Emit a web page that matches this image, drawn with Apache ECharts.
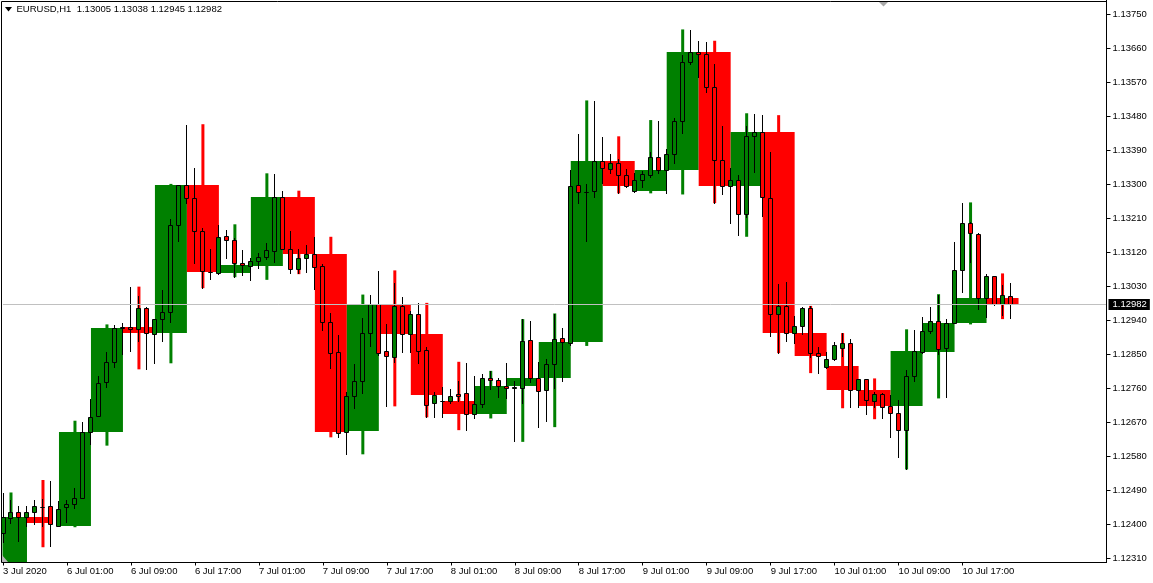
<!DOCTYPE html>
<html><head><meta charset="utf-8">
<script src="https://cdn.jsdelivr.net/npm/echarts@6/dist/echarts.min.js"></script>
<style>html,body{margin:0;padding:0;background:#fff}#c{width:1153px;height:583px}</style>
</head><body><div id="c"></div>
<script>
// ---------------- data ----------------
const symbolName = 'EURUSD,H1';
// trading sessions shown: [day of July 2020, first hour, last hour]
const sessions = [[3,17,23],[6,0,23],[7,0,23],[8,0,23],[9,0,23],[10,0,23]];
const futureSlots = 12;
const xTickLabels = ['3 Jul 2020','6 Jul 01:00','6 Jul 09:00','6 Jul 17:00','7 Jul 01:00','7 Jul 09:00','7 Jul 17:00','8 Jul 01:00','8 Jul 09:00','8 Jul 17:00','9 Jul 01:00','9 Jul 09:00','9 Jul 17:00','10 Jul 01:00','10 Jul 09:00','10 Jul 17:00'];
const yTicks = [1.12310,1.12400,1.12490,1.12580,1.12670,1.12760,1.12850,1.12940,1.13030,1.13120,1.13210,1.13300,1.13390,1.13480,1.13570,1.13660,1.13750];
const yMin = 1.122986, yMax = 1.137879;

// H1 bars [open, high, low, close]
const h1Ohlc = [
[1.12378,1.12482,1.12354,1.12418],[1.12416,1.12464,1.12404,1.12432],[1.12432,1.12448,1.12356,1.12418],[1.12418,1.12448,1.12396,1.12433],
[1.12433,1.12464,1.12400,1.12447],[1.12446,1.12467,1.12395,1.12446],[1.12449,1.12514,1.12341,1.12400],[1.12395,1.12461,1.12395,1.12440],
[1.12446,1.12464,1.12407,1.12454],[1.12453,1.12495,1.12444,1.12469],[1.12469,1.12671,1.12469,1.12643],[1.12643,1.12731,1.12612,1.12683],
[1.12686,1.12793,1.12686,1.12773],[1.12776,1.12855,1.12763,1.12830],[1.12830,1.12927,1.12817,1.12919],[1.12920,1.12933,1.12850,1.12921],
[1.12921,1.13027,1.12859,1.12916],[1.12916,1.13004,1.12886,1.12972],[1.12972,1.12974,1.12812,1.12906],[1.12904,1.12943,1.12828,1.12943],
[1.12943,1.13020,1.12886,1.12962],[1.12962,1.13208,1.12936,1.13191],[1.13191,1.13297,1.13151,1.13297],[1.13297,1.13457,1.13250,1.13263],
[1.13263,1.13343,1.13092,1.13176],[1.13176,1.13184,1.13025,1.13070],[1.13068,1.13128,1.13049,1.13068],[1.13065,1.13191,1.13062,1.13160],
[1.13162,1.13179,1.13105,1.13152],[1.13152,1.13159,1.13055,1.13091],[1.13092,1.13126,1.13061,1.13086],[1.13083,1.13104,1.13047,1.13096],
[1.13096,1.13117,1.13078,1.13107],[1.13107,1.13144,1.13103,1.13125],[1.13123,1.13327,1.13095,1.13266],[1.13266,1.13282,1.13128,1.13129],
[1.13129,1.13176,1.13064,1.13075],[1.13075,1.13129,1.13064,1.13104],[1.13104,1.13138,1.13069,1.13115],[1.13115,1.13160,1.13024,1.13082],
[1.13083,1.13088,1.12914,1.12936],[1.12936,1.12958,1.12813,1.12854],[1.12855,1.12901,1.12632,1.12642],[1.12645,1.12749,1.12586,1.12739],
[1.12739,1.12824,1.12707,1.12778],[1.12778,1.12945,1.12748,1.12906],[1.12906,1.13007,1.12873,1.12982],[1.12982,1.13070,1.12847,1.12854],
[1.12858,1.12930,1.12714,1.12845],[1.12844,1.13038,1.12830,1.12977],[1.12977,1.13002,1.12857,1.12904],[1.12904,1.12965,1.12857,1.12956],
[1.12956,1.12985,1.12828,1.12859],[1.12860,1.12868,1.12683,1.12716],[1.12720,1.12749,1.12685,1.12741],[1.12726,1.12763,1.12685,1.12726],
[1.12725,1.12758,1.12722,1.12739],[1.12744,1.12779,1.12726,1.12739],[1.12747,1.12827,1.12650,1.12691],[1.12691,1.12792,1.12680,1.12718],
[1.12718,1.12797,1.12709,1.12786],[1.12786,1.12805,1.12759,1.12781],[1.12781,1.12786,1.12738,1.12765],[1.12765,1.12827,1.12733,1.12760],
[1.12760,1.12779,1.12621,1.12762],[1.12760,1.12943,1.12722,1.12884],[1.12887,1.12938,1.12777,1.12786],[1.12786,1.12830,1.12658,1.12752],
[1.12755,1.12837,1.12674,1.12823],[1.12823,1.12957,1.12760,1.12890],[1.12892,1.12919,1.12780,1.12882],[1.12881,1.13338,1.12875,1.13295],
[1.13297,1.13432,1.13251,1.13279],[1.13280,1.13301,1.13151,1.13280],[1.13281,1.13521,1.13266,1.13361],[1.13361,1.13425,1.13303,1.13342],
[1.13340,1.13380,1.13329,1.13356],[1.13356,1.13367,1.13276,1.13324],[1.13324,1.13340,1.13294,1.13295],[1.13281,1.13329,1.13279,1.13311],
[1.13311,1.13336,1.13294,1.13326],[1.13324,1.13386,1.13319,1.13371],[1.13371,1.13468,1.13331,1.13337],[1.13337,1.13393,1.13276,1.13379],
[1.13379,1.13475,1.13356,1.13467],[1.13467,1.13642,1.13435,1.13623],[1.13623,1.13708,1.13618,1.13649],[1.13649,1.13679,1.13583,1.13644],
[1.13644,1.13677,1.13544,1.13557],[1.13557,1.13618,1.13251,1.13364],[1.13364,1.13454,1.13273,1.13295],[1.13295,1.13343,1.13198,1.13311],
[1.13311,1.13325,1.13165,1.13221],[1.13221,1.13454,1.13213,1.13427],[1.13427,1.13486,1.13333,1.13438],[1.13438,1.13483,1.13217,1.13266],
[1.13263,1.13385,1.12899,1.12956],[1.12956,1.13036,1.12854,1.12977],[1.12977,1.13041,1.12886,1.12906],[1.12906,1.12951,1.12879,1.12924],
[1.12924,1.12976,1.12904,1.12972],[1.12972,1.12978,1.12844,1.12853],[1.12853,1.12868,1.12801,1.12845],[1.12817,1.12855,1.12813,1.12837],
[1.12837,1.12882,1.12835,1.12874],[1.12867,1.12906,1.12846,1.12879],[1.12879,1.12890,1.12709,1.12755],[1.12755,1.12784,1.12709,1.12784],
[1.12784,1.12784,1.12692,1.12728],[1.12725,1.12750,1.12711,1.12744],[1.12744,1.12747,1.12680,1.12711],[1.12712,1.12741,1.12632,1.12694],
[1.12694,1.12729,1.12579,1.12649],[1.12649,1.12808,1.12546,1.12792],[1.12792,1.12914,1.12780,1.12858],[1.12855,1.12948,1.12853,1.12911],
[1.12911,1.12974,1.12906,1.12937],[1.12937,1.13007,1.12850,1.12863],[1.12866,1.12943,1.12736,1.12932],[1.12932,1.13146,1.12932,1.13072],
[1.13072,1.13250,1.13014,1.13197],[1.13197,1.13201,1.13094,1.13170],[1.13168,1.13170,1.12969,1.12998],[1.12998,1.13062,1.12949,1.13056],
[1.13056,1.13058,1.12980,1.12982],[1.12982,1.13033,1.12954,1.13006],[1.13005,1.13038,1.12945,1.12982]
];

// H4 bars: start time and [open, high, low, close]
const h4Times = ['3 Jul 16:00','3 Jul 20:00',
'6 Jul 00:00','6 Jul 04:00','6 Jul 08:00','6 Jul 12:00','6 Jul 16:00','6 Jul 20:00',
'7 Jul 00:00','7 Jul 04:00','7 Jul 08:00','7 Jul 12:00','7 Jul 16:00','7 Jul 20:00',
'8 Jul 00:00','8 Jul 04:00','8 Jul 08:00','8 Jul 12:00','8 Jul 16:00','8 Jul 20:00',
'9 Jul 00:00','9 Jul 04:00','9 Jul 08:00','9 Jul 12:00','9 Jul 16:00','9 Jul 20:00',
'10 Jul 00:00','10 Jul 04:00','10 Jul 08:00','10 Jul 12:00','10 Jul 16:00','10 Jul 20:00'];
const h4Ohlc = [
[1.12280,1.12484,1.12262,1.12418],[1.12418,1.12517,1.12339,1.12402],
[1.12395,1.12674,1.12392,1.12643],[1.12645,1.12929,1.12608,1.12919],[1.12921,1.13029,1.12810,1.12907],
[1.12905,1.13301,1.12826,1.13297],[1.13297,1.13459,1.13025,1.13068],[1.13066,1.13194,1.13054,1.13086],
[1.13084,1.13329,1.13047,1.13266],[1.13266,1.13283,1.13062,1.13115],[1.13115,1.13161,1.12630,1.12645],
[1.12647,1.13008,1.12585,1.12982],[1.12980,1.13072,1.12712,1.12904],[1.12904,1.12986,1.12683,1.12742],
[1.12726,1.12830,1.12649,1.12691],[1.12692,1.12806,1.12680,1.12766],[1.12767,1.12943,1.12618,1.12786],
[1.12786,1.12958,1.12657,1.12882],[1.12883,1.13522,1.12872,1.13362],[1.13362,1.13427,1.13276,1.13296],
[1.13282,1.13470,1.13276,1.13338],[1.13338,1.13710,1.13273,1.13650],[1.13650,1.13680,1.13250,1.13296],
[1.13296,1.13488,1.13161,1.13438],[1.13438,1.13483,1.12853,1.12907],[1.12907,1.12978,1.12800,1.12845],
[1.12819,1.12906,1.12707,1.12755],[1.12755,1.12786,1.12678,1.12713],[1.12714,1.12916,1.12545,1.12859],
[1.12856,1.13009,1.12733,1.12933],[1.12933,1.13252,1.12929,1.12998],[1.12998,1.13064,1.12943,1.12983]
];

// ---------------- build ----------------
const HOUR = 3600e3;
const stamp = (d, h) => Date.UTC(2020, 6, d, h);
const parseTime = s => { const p = s.split(' '); return stamp(+p[0], +p[2].split(':')[0]); };
const h1Stamps = [], h1Names = [];
sessions.forEach(([d, a, b]) => { for (let h = a; h <= b; h++) { h1Stamps.push(stamp(d, h)); h1Names.push(d + ' Jul ' + String(h).padStart(2,'0') + ':00'); } });
const categories = h1Names.slice();
for (let k = 1; k <= futureSlots; k++) categories.push('future+' + k);
const barCount = h1Names.length;

// MT4-like mapping of a time onto the bar slots
function slotOf(t) {
  const k = h1Stamps.indexOf(t);
  if (k >= 0) return k;
  const last = h1Stamps.length - 1;
  if (t < h1Stamps[0]) return -(h1Stamps[0] - t) / HOUR;
  if (t > h1Stamps[last]) return last + (t - h1Stamps[last]) / HOUR;
  let j = 0; while (h1Stamps[j + 1] < t) j++; return j;
}

const GREEN = '#008000', RED = '#ff0000';
const h1Data = h1Ohlc.map((r, i) => [i, r[0], r[1], r[2], r[3]]);
const h4Data = h4Ohlc.map((r, i) => {
  const t = parseTime(h4Times[i]);
  return [slotOf(t + 2 * HOUR), r[0], r[1], r[2], r[3], slotOf(t), slotOf(t + 4 * HOUR)];
});
const lastBar = h1Ohlc[h1Ohlc.length - 1];
const lastClose = lastBar[3];
const FONT = 'Liberation Sans, Arial, sans-serif';
const showTick = idx => idx % 8 === 0 && idx < barCount;

function slotX(api, i) {
  const a = api.coord([0, yMin])[0], b = api.coord([1, yMin])[0];
  return a + i * (b - a);
}

const chart = echarts.init(document.getElementById('c'), null, {renderer: 'canvas'});
chart.setOption({
  animation: false,
  backgroundColor: '#fff',
  textStyle: {fontFamily: FONT},
  grid: {left: 2.5, right: 46.5, top: 0, bottom: 20.5, show: false},
  xAxis: {
    type: 'category', data: categories, boundaryGap: false, min: 0, max: categories.length - 1,
    axisLine: {show: true, lineStyle: {color: '#000', width: 1}},
    axisTick: {show: true, interval: idx => showTick(idx), length: 3, lineStyle: {color: '#000'}},
    axisLabel: {interval: idx => showTick(idx), align: 'left', margin: 4, color: '#000', fontSize: 9.5, fontFamily: FONT,
      formatter: (v, idx) => xTickLabels[idx / 8] || ''},
    splitLine: {show: false}
  },
  yAxis: {
    type: 'value', position: 'right', min: yMin, max: yMax, scale: true,
    axisLine: {show: true, lineStyle: {color: '#000', width: 1}},
    axisTick: {show: true, customValues: yTicks, length: 4, lineStyle: {color: '#000'}},
    axisLabel: {customValues: yTicks, margin: 6, color: '#000', fontSize: 9.5, fontFamily: FONT,
      formatter: v => Number(v).toFixed(5)},
    splitLine: {show: false}
  },
  series: [
    {
      type: 'custom', name: 'H4', z: 1, data: h4Data,
      encode: {x: 0, y: [1, 2, 3, 4]},
      renderItem: (params, api) => {
        const cs = params.coordSys;
        const o = api.value(1), h = api.value(2), l = api.value(3), c = api.value(4);
        const color = c >= o ? GREEN : RED;
        let x0 = Math.max(slotX(api, api.value(5)), cs.x - 0.5);
        let x1 = Math.min(slotX(api, api.value(6)), cs.x + cs.width);
        const wx = slotX(api, api.value(0));
        const bottom = cs.y + cs.height;
        const yo = api.coord([0, o])[1], yc = api.coord([0, c])[1];
        let top = Math.round(Math.min(yo, yc)), bot = Math.min(Math.round(Math.max(yo, yc)), bottom);
        if (bot - top < 1) bot = top + 1;
        const yh = api.coord([0, h])[1], yl = Math.min(api.coord([0, l])[1], bottom);
        return {type: 'group', children: [
          {type: 'rect', shape: {x: x0, y: top, width: x1 - x0, height: bot - top}, style: {fill: color}},
          {type: 'line', shape: {x1: wx, y1: yh, x2: wx, y2: yl}, style: {stroke: color, lineWidth: 3}}
        ]};
      }
    },
    {
      type: 'line', name: 'price', z: 2, data: [], silent: true,
      markLine: {
        silent: true, symbol: ['none', 'none'], animation: false, precision: 5,
        lineStyle: {color: '#c0c0c0', width: 1, type: 'solid'},
        label: {show: true, position: 'end', distance: 2, formatter: lastClose.toFixed(5),
          color: '#fff', backgroundColor: '#000', padding: [1, 3, 0, 4], fontSize: 9.5, fontFamily: FONT, lineHeight: 10},
        data: [{yAxis: lastClose}]
      }
    },
    {
      type: 'custom', name: 'H1', z: 3, data: h1Data,
      encode: {x: 0, y: [1, 2, 3, 4]},
      renderItem: (params, api) => {
        const i = api.value(0);
        const o = api.value(1), h = api.value(2), l = api.value(3), c = api.value(4);
        const cx = Math.round(slotX(api, i) - 0.5) + 0.5;
        const yo = api.coord([0, o])[1], yc = api.coord([0, c])[1];
        const yh = api.coord([0, h])[1], yl = api.coord([0, l])[1];
        const top = Math.round(Math.min(yo, yc)) + 0.5, bot = Math.round(Math.max(yo, yc)) + 0.5;
        const color = c >= o ? GREEN : RED;
        return {type: 'group', children: [
          {type: 'line', shape: {x1: cx, y1: Math.round(yh), x2: cx, y2: Math.round(yl) + 1}, style: {stroke: '#000', lineWidth: 1}},
          {type: 'rect', shape: {x: cx - 2, y: top, width: 4, height: bot - top}, style: {fill: color, stroke: '#000', lineWidth: 1}}
        ]};
      }
    }
  ],
  graphic: [
    {type: 'rect', silent: true, z: 100, shape: {x: 1.5, y: 1.5, width: 1105, height: 561}, style: {fill: null, stroke: '#000', lineWidth: 1}},
    {type: 'polygon', silent: true, z: 100, shape: {points: [[5, 7], [12, 7], [8.5, 11.5]]}, style: {fill: '#000'}},
    {type: 'text', silent: true, z: 100, x: 16.5, y: 9.5,
      style: {text: symbolName + '  ' + lastBar.map(v => v.toFixed(5)).join(' '), fill: '#000', fontSize: 9.5, fontFamily: FONT, verticalAlign: 'middle'}},
    {type: 'polygon', silent: true, z: 100, shape: {points: [[879, 2], [888, 2], [883.5, 6.5]]}, style: {fill: '#a8a8a8'}},
    {type: 'polygon', silent: true, z: 100, shape: {points: [[2, 555], [2, 562], [8, 562]]}, style: {fill: '#b8b8b8'}}
  ]
});
</script>
</body></html>
